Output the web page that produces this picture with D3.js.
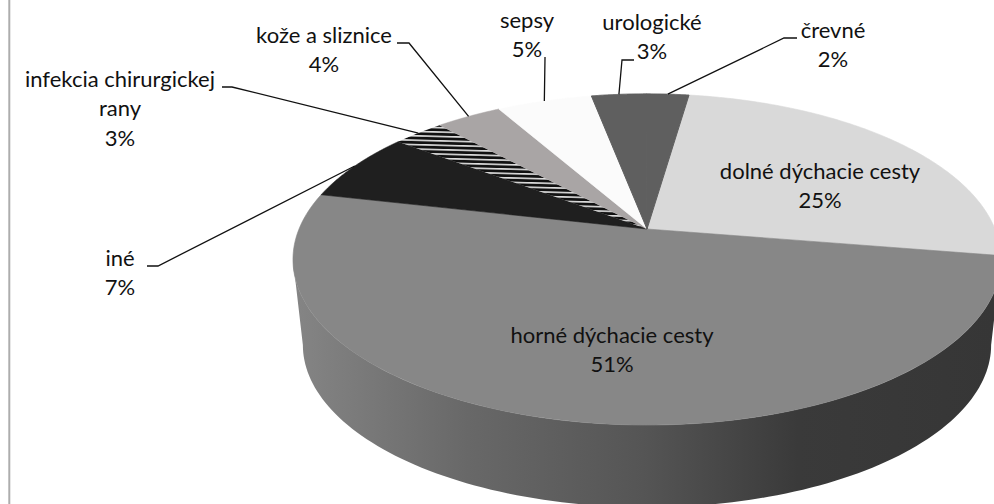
<!DOCTYPE html>
<html><head><meta charset="utf-8">
<script src="https://cdn.jsdelivr.net/npm/d3@7"></script>
<style>html,body{margin:0;padding:0;background:#fff}svg{display:block}text{font-family:Lato,"Open Sans",sans-serif;font-size:22px;fill:#111}</style>
</head><body><svg id="c" width="994" height="504"></svg>
<script>
const categories = ["dolné dýchacie cesty","horné dýchacie cesty","iné","infekcia chirurgickej rany","kože a sliznice","sepsy","urologické","črevné"];
const values = [25.3,51,6.8,2.8,3.6,5.2,3.0,2.3];
const sliceColors = ["#d9d9d9","#878787","#1f1f1f","url(#hatch)","#a9a5a5","#fbfbfb","#5f5f5f","#5f5f5f"];
const labelLines = [["dolné dýchacie cesty"],["horné dýchacie cesty"],["iné"],["infekcia chirurgickej","rany"],["kože a sliznice"],["sepsy"],["urologické"],["črevné"]];
const labelAnchors = [[820,179],[612,343],[120,266],[120,87],[324,43],[527,28],[652,30],[833,38]];
const leaderPaths = [null,null,[[147,266],[158,266]],[[222,87],[232,87]],[[397,43],[409,43]],[[545,57],[545,58]],[[634,60],[622,60]],[[797,38],[784,38]]];

const svg = d3.select("#c");
const cx=647, cy=229, A=348, B=160, P=0.184, startAngle=8.2*Math.PI/180;
const lineGap=29.3, wallXScale=0.972, wallYScale=0.98, wallDrop=85.5, ellipseCy=259.5;
function rim(t){const u=Math.sin(t),v=Math.cos(t),w=1+P*v;return [cx+A*u/w,cy-B*v/w];}
function rimLow(t){const [x,y]=rim(t);return [cx+(x-cx)*wallXScale,ellipseCy+(y-ellipseCy)*wallYScale+wallDrop];}
const pie=d3.pie().sort(null).value(d=>d).startAngle(startAngle).endAngle(startAngle+2*Math.PI);
const arcs=pie(values);
const defs=svg.append("defs");
const grad=defs.append("linearGradient").attr("id","side").attr("gradientUnits","userSpaceOnUse").attr("x1",293).attr("x2",994).attr("y1",0).attr("y2",0);
[[0,"#858585"],[0.25,"#686868"],[0.5,"#555555"],[0.72,"#3a3a3a"],[1,"#363636"]].forEach(s=>grad.append("stop").attr("offset",s[0]).attr("stop-color",s[1]));
const pat=defs.append("pattern").attr("id","hatch").attr("patternUnits","userSpaceOnUse").attr("width",20).attr("height",4.4).attr("patternTransform","rotate(1.5)");
pat.append("rect").attr("width",20).attr("height",4.4).attr("fill","#111");
pat.append("rect").attr("y",1).attr("width",20).attr("height",1.4).attr("fill","#fff");

const line=d3.line();
function sweep(a,b,f){return d3.range(0,121).map(i=>f(a+(b-a)*i/120));}
// side wall, between the two horizontal extremes of the rim
const ext=Math.acos(-P);
const wallA=ext, wallB=2*Math.PI-ext;
const sidePts=sweep(wallA,wallB,rim).concat(sweep(wallB,wallA,rimLow));
svg.append("path").attr("d",line(sidePts)+"Z").attr("fill","url(#side)");
// top faces
svg.append("g").selectAll("path").data(arcs).join("path")
  .attr("d",d=>line([[cx,cy]].concat(sweep(d.startAngle,d.endAngle,rim)))+"Z")
  .attr("fill",(d,i)=>sliceColors[i])
  .attr("stroke",(d,i)=>i===3?"none":sliceColors[i]).attr("stroke-width",(d,i)=>i>=6?1:0.6);
// leaders
const ends=arcs.map(d=>rim((d.startAngle+d.endAngle)/2));
svg.append("g").selectAll("path").data(leaderPaths.map((p,i)=>p?{p,i}:null).filter(Boolean)).join("path")
  .attr("d",d=>line(d.p.concat([ends[d.i]]))).attr("fill","none").attr("stroke","#111").attr("stroke-width",1.3);
// labels
const fmt=d3.format(".0f");
const lab=svg.append("g").selectAll("text").data(categories).join("text").attr("text-anchor","middle")
  .attr("x",(d,i)=>labelAnchors[i][0]).attr("y",(d,i)=>labelAnchors[i][1]);
lab.each(function(d,i){
  const el=d3.select(this);
  labelLines[i].concat([fmt(values[i])+"%"]).forEach((s,j)=>el.append("tspan").attr("x",labelAnchors[i][0]).attr("dy",j?lineGap:0).text(s));
});
// frame
svg.append("line").attr("x1",9.3).attr("x2",9.3).attr("y1",0).attr("y2",504).attr("stroke","#adadad").attr("stroke-width",2);
</script></body></html>
